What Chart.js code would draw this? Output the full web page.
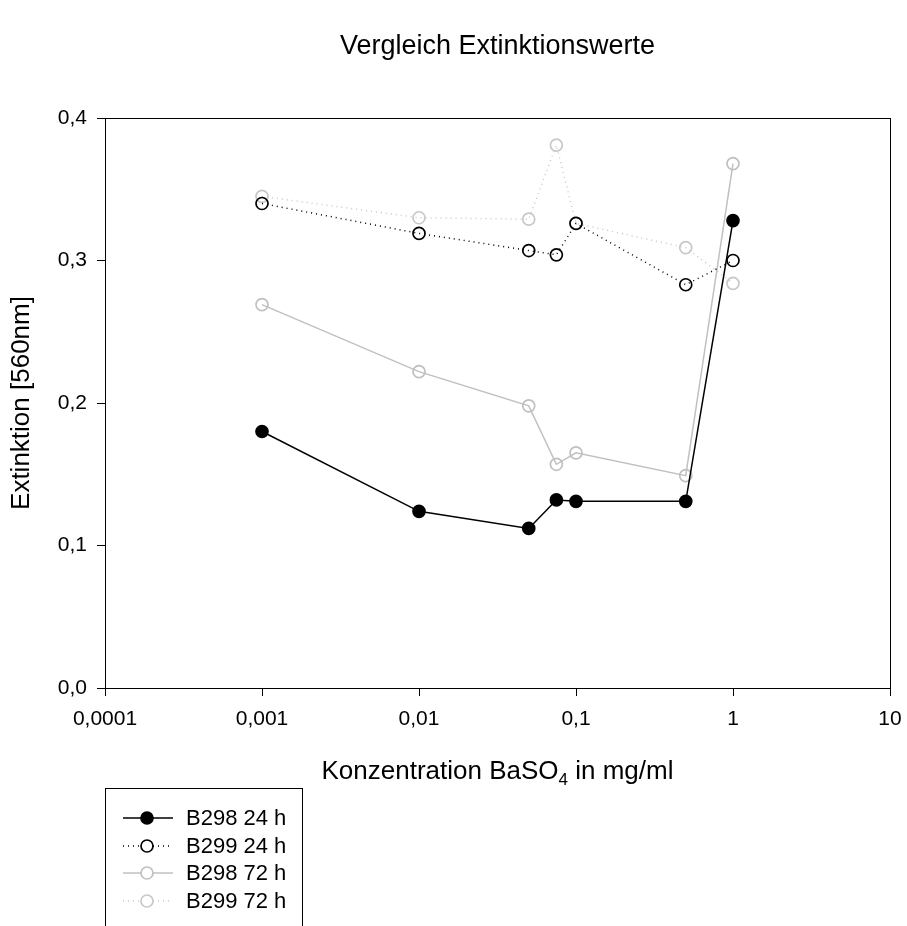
<!DOCTYPE html>
<html>
<head>
<meta charset="utf-8">
<script src="https://cdn.jsdelivr.net/npm/chart.js@4"></script>
<style>
  html, body { margin: 0; padding: 0; background: #fff; }
  #wrap { position: relative; width: 907px; height: 926px; overflow: hidden; font-family: "Liberation Sans", Arial, sans-serif; }
  canvas { position: absolute; left: 0; top: 0; }
  .title { position: absolute; left: 0; width: 995px; top: 30px; line-height: 30px; text-align: center; font-size: 27px; color: #000; }
  .xtitle { position: absolute; left: 0; width: 995px; top: 755px; line-height: 30px; text-align: center; font-size: 26px; color: #000; }
  .xtitle sub { font-size: 17px; vertical-align: -6px; line-height: 0; }
  .legend { position: absolute; left: 105px; top: 788px; width: 196px; height: 160px; border: 1px solid #000; border-bottom: none; }
  .legend .row { position: absolute; left: 0; height: 28px; display: flex; align-items: center; font-size: 22px; white-space: nowrap; }
  .legend svg { margin-left: 16px; margin-right: 12px; }
</style>
</head>
<body>
<div id="wrap">
  <canvas id="chart" width="907" height="926"></canvas>
  <div class="title">Vergleich Extinktionswerte</div>
  <div class="xtitle">Konzentration BaSO<sub>4</sub> in mg/ml</div>
  <div class="legend" id="legend"></div>
</div>
<script>
const conc = [0.001, 0.01, 0.05, 0.075, 0.1, 0.5, 1];
const b298_24 = [0.180, 0.124, 0.112, 0.132, 0.131, 0.131, 0.328];
const b299_24 = [0.340, 0.319, 0.307, 0.304, 0.326, 0.283, 0.300];
const b298_72 = [0.269, 0.222, 0.198, 0.157, 0.165, 0.149, 0.368];
const b299_72 = [0.345, 0.330, 0.329, 0.381, 0.326, 0.309, 0.284];
const xTicks = [0.0001, 0.001, 0.01, 0.1, 1, 10];
const yTicks = [0, 0.1, 0.2, 0.3, 0.4];

const series = [
  { label: 'B298 24 h', data: b298_24, color: '#000000', fill: '#000000', dash: [] },
  { label: 'B299 24 h', data: b299_24, color: '#000000', fill: 'rgba(0,0,0,0)', dash: [1, 4] },
  { label: 'B298 72 h', data: b298_72, color: '#c0c0c0', fill: 'rgba(0,0,0,0)', dash: [] },
  { label: 'B299 72 h', data: b299_72, color: '#c8c8c8', fill: 'rgba(0,0,0,0)', dash: [1, 4] },
];

const frame = {
  id: 'frame',
  afterDraw(chart) {
    const { ctx, chartArea: a } = chart;
    ctx.save();
    ctx.strokeStyle = '#000';
    ctx.lineWidth = 1;
    ctx.strokeRect(Math.round(a.left) + 0.5, Math.round(a.top) + 0.5, Math.round(a.right - a.left), Math.round(a.bottom - a.top));
    ctx.restore();
  }
};

new Chart(document.getElementById('chart'), {
  type: 'scatter',
  data: {
    datasets: series.map((s, i) => ({
      label: s.label,
      data: conc.map((x, j) => ({ x, y: s.data[j] })),
      showLine: true,
      borderColor: s.color,
      borderWidth: 1.5,
      borderDash: s.dash,
      pointRadius: 6,
      pointHoverRadius: 6,
      pointBorderWidth: 1.7,
      pointBorderColor: s.color,
      pointBackgroundColor: s.fill,
      order: i,
    })).reverse(),
  },
  plugins: [frame],
  options: {
    responsive: false,
    animation: false,
    events: [],
    layout: { padding: { left: 0, top: 118, right: 17, bottom: 188 } },
    plugins: { legend: { display: false }, tooltip: { enabled: false } },
    scales: {
      x: {
        type: 'logarithmic',
        min: 0.0001, max: 10,
        afterBuildTicks: s => { s.ticks = xTicks.map(v => ({ value: v })); },
        afterFit: s => { s.height = 50; s.paddingLeft = 0; s.paddingRight = 0; },
        grid: { drawOnChartArea: false, color: '#000', tickLength: 8 },
        border: { color: '#000' },
        ticks: {
          color: '#000', padding: 11, maxRotation: 0, autoSkip: false,
          font: { family: 'Liberation Sans', size: 21 },
          callback: v => String(v).replace('.', ','),
        },
      },
      y: {
        min: 0, max: 0.4,
        afterBuildTicks: s => { s.ticks = yTicks.map(v => ({ value: v })); },
        afterFit: s => { s.width = 105; s.paddingTop = 0; s.paddingBottom = 0; },
        grid: { drawOnChartArea: false, color: '#000', tickLength: 8 },
        border: { color: '#000' },
        title: { display: true, text: 'Extinktion [560nm]', color: '#000', font: { family: 'Liberation Sans', size: 26 }, padding: { top: 6, bottom: 8 } },
        ticks: {
          color: '#000', padding: 10,
          font: { family: 'Liberation Sans', size: 21 },
          callback: v => v.toFixed(1).replace('.', ','),
        },
      },
    },
  },
});

const legend = document.getElementById('legend');
series.forEach((s, i) => {
  const row = document.createElement('div');
  row.className = 'row';
  row.style.top = (15 + i * 27.7) + 'px';
  const dash = s.dash.length ? 'stroke-dasharray="1 4"' : '';
  row.innerHTML = `<svg width="52" height="16">
      <line x1="1" y1="8" x2="51" y2="8" stroke="${s.color}" stroke-width="1.5" ${dash}/>
      <circle cx="25" cy="8" r="6" stroke="${s.color}" stroke-width="1.7" fill="${s.fill === '#000000' ? '#000' : '#fff'}"/>
    </svg><span>${s.label}</span>`;
  legend.appendChild(row);
});
</script>
</body>
</html>
